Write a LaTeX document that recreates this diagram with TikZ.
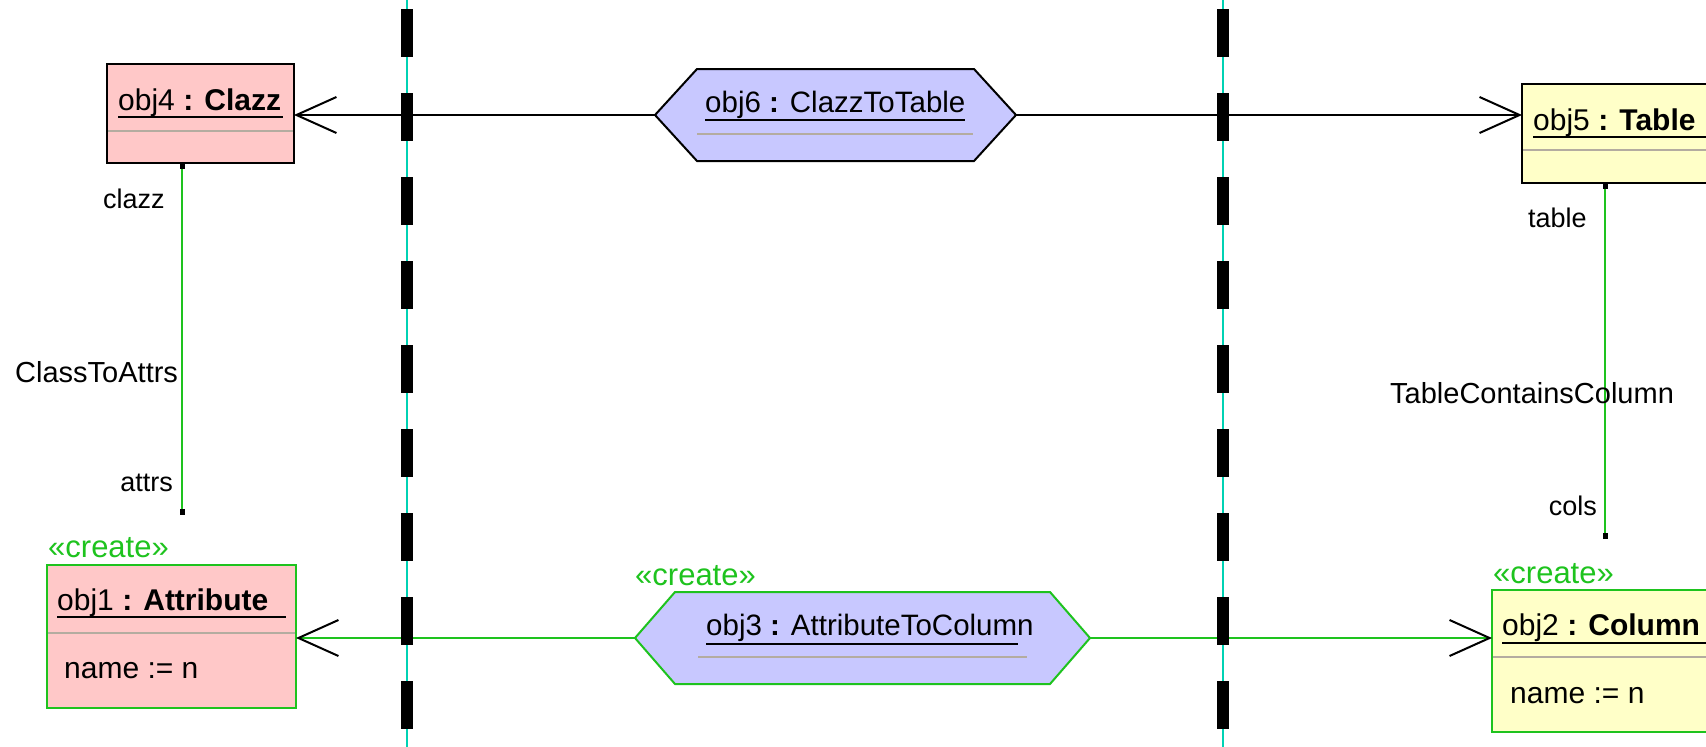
\documentclass[tikz,border=0pt]{standalone}
\usepackage{fontspec}
\setmainfont{Liberation Sans}
\usetikzlibrary{arrows.meta}
\definecolor{pinkfill}{RGB}{255,200,200}
\definecolor{yellowfill}{RGB}{255,255,200}
\definecolor{lavfill}{RGB}{200,200,255}
\definecolor{umlgreen}{RGB}{30,195,30}
\definecolor{lanecyan}{RGB}{0,210,180}
\definecolor{sepgray}{RGB}{180,172,160}
\begin{document}
\begin{tikzpicture}[x=1pt,y=-1pt,
  objbox/.style={rectangle,draw=black,line width=2pt,inner sep=0pt,outer sep=0pt},
  hexbody/.style={rectangle,draw=none,inner sep=0pt,outer sep=0pt},
  hexline/.style={line width=2pt},
  sepline/.style={draw=sepgray,line width=2pt},
  uline/.style={draw=black,line width=2pt},
  titletext/.style={anchor=base west,inner sep=0pt,font=\fontsize{30}{36}\selectfont},
  hextext/.style={anchor=base west,inner sep=0pt,font=\fontsize{29.5}{34}\selectfont},
  roletext/.style={inner sep=0pt,font=\fontsize{27}{32}\selectfont},
  assoctext/.style={anchor=base west,inner sep=0pt,font=\fontsize{29}{34}\selectfont},
  attrtext/.style={anchor=base west,inner sep=0pt,font=\fontsize{30}{36}\selectfont},
  createtext/.style={anchor=base west,inner sep=0pt,text=umlgreen,font=\fontsize{31}{36}\selectfont},
  lanebar/.style={line width=12pt,dash pattern=on 48pt off 36pt},
  laneline/.style={draw=lanecyan,line width=2pt},
  conn/.style={line width=2pt},
  openarrow/.style={-{Straight Barb[length=40pt,width=36pt,line width=2pt,black]}},
  assoc/.style={draw=umlgreen,line width=2pt},
  enddot/.style={rectangle,fill=black,inner sep=0pt,minimum width=5pt,minimum height=6pt}
]
\useasboundingbox (0,0) rectangle (1706,747);
\clip (0,0) rectangle (1706,747);
\fill[white] (0,0) rectangle (1706,747);

% swimlane centre lines
\draw[laneline] (406.5,0) -- (406.5,747);
\draw[laneline] (1223,0) -- (1223,747);

% object boxes
\node[objbox,fill=pinkfill,minimum width=187pt,minimum height=99pt] (clazz) at (200.5,113.5) {};
\node[objbox,fill=yellowfill,minimum width=220pt,minimum height=99pt] (table) at (1632,133.5) {};
\node[objbox,draw=umlgreen,fill=pinkfill,minimum width=249pt,minimum height=143pt] (attr) at (171.5,636.5) {};
\node[objbox,draw=umlgreen,fill=yellowfill,minimum width=220pt,minimum height=142pt] (column) at (1602,661) {};

% hexagon bodies
\node[hexbody,minimum width=361pt,minimum height=92pt] (h6) at (835.5,115) {};
\node[hexbody,minimum width=455pt,minimum height=92pt] (h3) at (862.5,638) {};

% connectors
\draw[conn,openarrow] (h6.west) -- (h6.west -| clazz.east);
\draw[conn,openarrow] (h6.east) -- (h6.east -| table.west);
\draw[conn,draw=umlgreen,openarrow] (h3.west) -- (h3.west -| attr.east);
\draw[conn,draw=umlgreen,openarrow] (h3.east) -- (h3.east -| column.west);

% hexagons
\draw[hexline,fill=lavfill] (h6.west) -- ([xshift=42pt]h6.north west) -- ([xshift=-42pt]h6.north east) -- (h6.east) -- ([xshift=-42pt]h6.south east) -- ([xshift=42pt]h6.south west) -- cycle;
\draw[hexline,draw=umlgreen,fill=lavfill] (h3.west) -- ([xshift=40pt]h3.north west) -- ([xshift=-40pt]h3.north east) -- (h3.east) -- ([xshift=-40pt]h3.south east) -- ([xshift=40pt]h3.south west) -- cycle;

% separators
\draw[sepline] (108,131) -- (293,131);
\draw[sepline] (1523,150) -- (1706,150);
\draw[sepline] (48,633) -- (295,633);
\draw[sepline] (1493,657) -- (1706,657);
\draw[sepline] (697,134) -- (973,134);
\draw[sepline] (698,657) -- (1027,657);

% titles
\node[titletext] (t4) at (118,110) {obj4\textbf{ : Clazz}};
\draw[uline] (118,117) -- (283,117);
\node[titletext] (t5) at (1533,130) {obj5\textbf{ : Table}};
\draw[uline] (1533,137) -- (1706,137);
\node[titletext] (t1) at (57,610) {obj1\textbf{ : Attribute}};
\draw[uline] (57,617) -- (286,617);
\node[titletext] (t2) at (1502,635) {obj2\textbf{ : Column}};
\draw[uline] (1502,643) -- (1706,643);
\node[hextext] (t6) at (705,112) {obj6\textbf{ : }ClazzToTable};
\draw[uline] (705,120) -- (965,120);
\node[hextext] (t3) at (706,635) {obj3\textbf{ : }AttributeToColumn};
\draw[uline] (706,644) -- (1018,644);

% attributes
\node[attrtext] (a1) at (64,678) {name := n};
\node[attrtext] (a2) at (1510,703) {name := n};

% create stereotypes
\node[createtext] (c1) at (48,557) {«create»};
\node[createtext] (c3) at (635,585) {«create»};
\node[createtext] (c2) at (1493,583) {«create»};

% associations
\coordinate (attrsend) at (182,512);
\coordinate (colsend) at (1605,536);
\draw[assoc] (clazz.south -| attrsend) -- (attrsend);
\draw[assoc] (table.south -| colsend) -- (colsend);
\node[enddot] (d1) at ([yshift=-3pt]clazz.south -| attrsend) {};
\node[enddot] (d2) at (attrsend) {};
\node[enddot] (d3) at ([yshift=-3pt]table.south -| colsend) {};
\node[enddot] (d4) at (colsend) {};

% association labels
\node[roletext,anchor=base west] (lclazz) at (103,208) {clazz};
\node[assoctext] (lcta) at (15,382) {ClassToAttrs};
\node[roletext,anchor=base east] (lattrs) at (173,491) {attrs};
\node[roletext,anchor=base west] (ltable) at (1528,227) {table};
\node[assoctext] (ltcc) at (1390,403) {TableContainsColumn};
\node[roletext,anchor=base east] (lcols) at (1597,515) {cols};

% swimlane bars
\draw[lanebar] (406.5,9) -- (406.5,747);
\draw[lanebar] (1223,9) -- (1223,747);
\end{tikzpicture}
\end{document}
